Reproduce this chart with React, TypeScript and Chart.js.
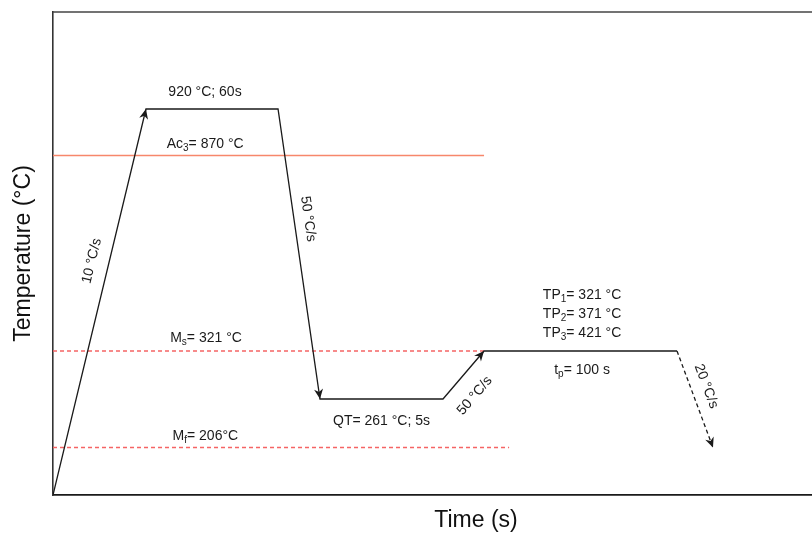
import { useEffect, useRef } from 'react';
import { Chart, registerables, LinearScale } from 'chart.js';

Chart.register(...registerables);

// ---- Thermal route (time in s, temperature in °C) ----
const ROUTE_TIME = [0, 90, 150, 163, 168, 169, 269];
const ROUTE_TEMP = [25, 920, 920, 261, 261, 321, 321];
// vertices of the route that end in an arrowhead
const ROUTE_ARROWS = [1, 3, 5];
// final cooling leg, drawn dashed
const COOL_TIME = [269, 275];
const COOL_TEMP = [321, 206];

// ---- Critical temperatures ----
const AC3_TEMP = 870;
const MS_TEMP = 321;
const MF_TEMP = 206;
// time at which each reference line stops
const CRIT_END_TIME = [169, 169, 182];

// ---- Process parameters quoted in the notes ----
const PEAK_TEMP = 920;
const PEAK_HOLD = 60;
const QT_TEMP = 261;
const QT_HOLD = 5;
const TP_TEMPS = [321, 371, 421];
const TP_HOLD = 100;
const RATES = [10, 50, 50, 20];

// Schematic axes: the drawing is not to scale, so each axis is a
// piecewise-linear map from value to fraction of the axis length.
type Stop = [number, number];
const AXIS_STOPS: Record<string, Stop[]> = {
  x: [[0, 0], [90, 0.1099], [150, 0.266], [163, 0.3156], [168, 0.461], [169, 0.5095], [269, 0.7376], [275, 0.7801], [306, 1]],
  y: [[25, 0], [206, 0.0983], [261, 0.1988], [321, 0.2981], [870, 0.7029], [920, 0.7992], [1025, 1]],
};

function valueToFraction(v: number, stops: Stop[]) {
  let i = 0;
  while (i < stops.length - 2 && v > stops[i + 1][0]) i++;
  const [v0, f0] = stops[i];
  const [v1, f1] = stops[i + 1];
  return f0 + ((v - v0) * (f1 - f0)) / (v1 - v0);
}

function fractionToValue(f: number, stops: Stop[]) {
  let i = 0;
  while (i < stops.length - 2 && f > stops[i + 1][1]) i++;
  const [v0, f0] = stops[i];
  const [v1, f1] = stops[i + 1];
  return v0 + ((f - f0) * (v1 - v0)) / (f1 - f0);
}

class SchematicScale extends LinearScale {
  static id = 'schematic';
  static defaults = LinearScale.defaults;
  getPixelForValue(value: number) {
    return this.getPixelForDecimal(valueToFraction(value, AXIS_STOPS[this.axis]));
  }
  getValueForPixel(pixel: number) {
    return fractionToValue(this.getDecimalForPixel(pixel), AXIS_STOPS[this.axis]);
  }
}
Chart.register(SchematicScale as any);

const FONT = '"Liberation Sans", Arial, Helvetica, sans-serif';
const INK = '#1a1a1a';

const pts = (xs: number[], ys: number[]) => xs.map((x, i) => ({ x, y: ys[i] }));

// dataset indices
const ROUTE = 0;
const COOL = 1;
const AC3 = 2;
const MS = 3;
const MF = 4;

type Part = { t: string; sub?: boolean };
type Note = { ds: number; seg: number; at: number; off: number; rotate?: boolean; parts: Part[] };

const NOTES: Note[] = [
  { ds: ROUTE, seg: 1, at: 0.447, off: -17, parts: [{ t: `${PEAK_TEMP} °C; ${PEAK_HOLD}s` }] },
  { ds: AC3, seg: 0, at: 0.353, off: -11, parts: [{ t: 'Ac' }, { t: '3', sub: true }, { t: `= ${AC3_TEMP} °C` }] },
  { ds: MS, seg: 0, at: 0.355, off: -12.5, parts: [{ t: 'M' }, { t: 's', sub: true }, { t: `= ${MS_TEMP} °C` }] },
  { ds: MF, seg: 0, at: 0.334, off: -11.5, parts: [{ t: 'M' }, { t: 'f', sub: true }, { t: `= ${MF_TEMP}°C` }] },
  { ds: ROUTE, seg: 0, at: 0.596, off: -17, rotate: true, parts: [{ t: `${RATES[0]} °C/s` }] },
  { ds: ROUTE, seg: 2, at: 0.386, off: -14, rotate: true, parts: [{ t: `${RATES[1]} °C/s` }] },
  { ds: ROUTE, seg: 3, at: 0.5, off: 22, parts: [{ t: `QT= ${QT_TEMP} °C; ${QT_HOLD}s` }] },
  { ds: ROUTE, seg: 4, at: 0.366, off: 22, rotate: true, parts: [{ t: `${RATES[2]} °C/s` }] },
  { ds: ROUTE, seg: 5, at: 0.508, off: -56, parts: [{ t: 'TP' }, { t: '1', sub: true }, { t: `= ${TP_TEMPS[0]} °C` }] },
  { ds: ROUTE, seg: 5, at: 0.508, off: -37, parts: [{ t: 'TP' }, { t: '2', sub: true }, { t: `= ${TP_TEMPS[1]} °C` }] },
  { ds: ROUTE, seg: 5, at: 0.508, off: -18, parts: [{ t: 'TP' }, { t: '3', sub: true }, { t: `= ${TP_TEMPS[2]} °C` }] },
  { ds: ROUTE, seg: 5, at: 0.508, off: 19, parts: [{ t: 't' }, { t: 'p', sub: true }, { t: `= ${TP_HOLD} s` }] },
  { ds: COOL, seg: 0, at: 0.42, off: -15, rotate: true, parts: [{ t: `${RATES[3]} °C/s` }] },
];

function drawParts(ctx: CanvasRenderingContext2D, parts: Part[], x: number, y: number, angle: number) {
  const main = `14px ${FONT}`;
  const sub = `10px ${FONT}`;
  let total = 0;
  const widths = parts.map((p) => {
    ctx.font = p.sub ? sub : main;
    const w = ctx.measureText(p.t).width;
    total += w;
    return w;
  });
  ctx.save();
  ctx.translate(x, y);
  ctx.rotate(angle);
  ctx.textBaseline = 'middle';
  ctx.textAlign = 'left';
  ctx.fillStyle = INK;
  let cx = -total / 2;
  parts.forEach((p, i) => {
    ctx.font = p.sub ? sub : main;
    ctx.fillText(p.t, cx, p.sub ? 4 : 0);
    cx += widths[i];
  });
  ctx.restore();
}

function arrowHead(ctx: CanvasRenderingContext2D, from: { x: number; y: number }, to: { x: number; y: number }) {
  const a = Math.atan2(to.y - from.y, to.x - from.x);
  ctx.save();
  ctx.translate(to.x, to.y);
  ctx.rotate(a);
  ctx.beginPath();
  ctx.moveTo(0, 0);
  ctx.lineTo(-10, -4.5);
  ctx.lineTo(-7, 0);
  ctx.lineTo(-10, 4.5);
  ctx.closePath();
  ctx.fillStyle = INK;
  ctx.fill();
  ctx.restore();
}

const marksPlugin = {
  id: 'schematicMarks',
  beforeDatasetsDraw(chart: any) {
    const { ctx, chartArea } = chart;
    ctx.save();
    ctx.strokeStyle = '#444';
    ctx.lineWidth = 1.6;
    ctx.beginPath();
    ctx.moveTo(chartArea.left, chartArea.top);
    ctx.lineTo(chartArea.right, chartArea.top);
    ctx.stroke();
    ctx.restore();
  },
  afterDatasetsDraw(chart: any) {
    const ctx: CanvasRenderingContext2D = chart.ctx;
    const pix = (ds: number) => chart.getDatasetMeta(ds).data.map((e: any) => ({ x: e.x, y: e.y }));

    const route = pix(ROUTE);
    ROUTE_ARROWS.forEach((i) => arrowHead(ctx, route[i - 1], route[i]));
    const cool = pix(COOL);
    arrowHead(ctx, cool[cool.length - 2], cool[cool.length - 1]);

    NOTES.forEach((n) => {
      const p = pix(n.ds);
      const a0 = p[n.seg];
      const a1 = p[n.seg + 1];
      const cx = a0.x + (a1.x - a0.x) * n.at;
      const cy = a0.y + (a1.y - a0.y) * n.at;
      let ang = Math.atan2(a1.y - a0.y, a1.x - a0.x);
      if (ang > Math.PI / 2) ang -= Math.PI;
      if (ang < -Math.PI / 2) ang += Math.PI;
      const a = n.rotate ? ang : 0;
      const x = cx - Math.sin(a) * n.off;
      const y = cy + Math.cos(a) * n.off;
      drawParts(ctx, n.parts, x, y, a);
    });
  },
};

export default function App() {
  const ref = useRef<HTMLCanvasElement>(null);

  useEffect(() => {
    const line = (data: any[], color: string, width: number, dash: number[], order: number) => ({
      data,
      borderColor: color,
      backgroundColor: color,
      borderWidth: width,
      borderDash: dash,
      pointRadius: 0,
      fill: false,
      tension: 0,
      order,
    });

    const chart = new Chart(ref.current as HTMLCanvasElement, {
      type: 'line',
      data: {
        datasets: [
          line(pts(ROUTE_TIME, ROUTE_TEMP), INK, 1.3, [], 0),
          line(pts(COOL_TIME, COOL_TEMP), INK, 1.3, [4, 3], 0),
          line(pts([0, CRIT_END_TIME[0]], [AC3_TEMP, AC3_TEMP]), '#f7876b', 1.5, [], 1),
          line(pts([0, CRIT_END_TIME[1]], [MS_TEMP, MS_TEMP]), '#f56464', 1.3, [4, 3], 1),
          line(pts([0, CRIT_END_TIME[2]], [MF_TEMP, MF_TEMP]), '#f56464', 1.3, [4, 3], 1),
        ] as any,
      },
      options: {
        animation: false,
        responsive: false,
        devicePixelRatio: 1,
        layout: { padding: { left: 0, top: 12, right: 1, bottom: 0 } },
        plugins: { legend: { display: false }, tooltip: { enabled: false } },
        scales: {
          x: {
            type: 'schematic' as any,
            min: 0,
            max: 306,
            grid: { display: false, drawTicks: false },
            ticks: { display: false },
            border: { display: true, color: INK, width: 1.8 },
            title: {
              display: true,
              text: 'Time (s)',
              color: '#111',
              font: { family: FONT, size: 23 },
              padding: { top: 11.4, bottom: 0 },
            },
          },
          y: {
            type: 'schematic' as any,
            min: 25,
            max: 1025,
            grid: { display: false, drawTicks: false },
            ticks: { display: false },
            border: { display: true, color: '#333', width: 1.6 },
            title: {
              display: true,
              text: 'Temperature (°C)',
              color: '#111',
              font: { family: FONT, size: 23 },
              padding: { top: 10.2, bottom: 15.2 },
            },
          },
        } as any,
      },
      plugins: [marksPlugin],
    });
    return () => chart.destroy();
  }, []);

  return (
    <div style={{ position: 'absolute', left: 0, top: 0, width: 812, height: 534, overflow: 'hidden', background: '#fff' }}>
      <canvas ref={ref} width={900} height={534} style={{ display: 'block' }} />
    </div>
  );
}
